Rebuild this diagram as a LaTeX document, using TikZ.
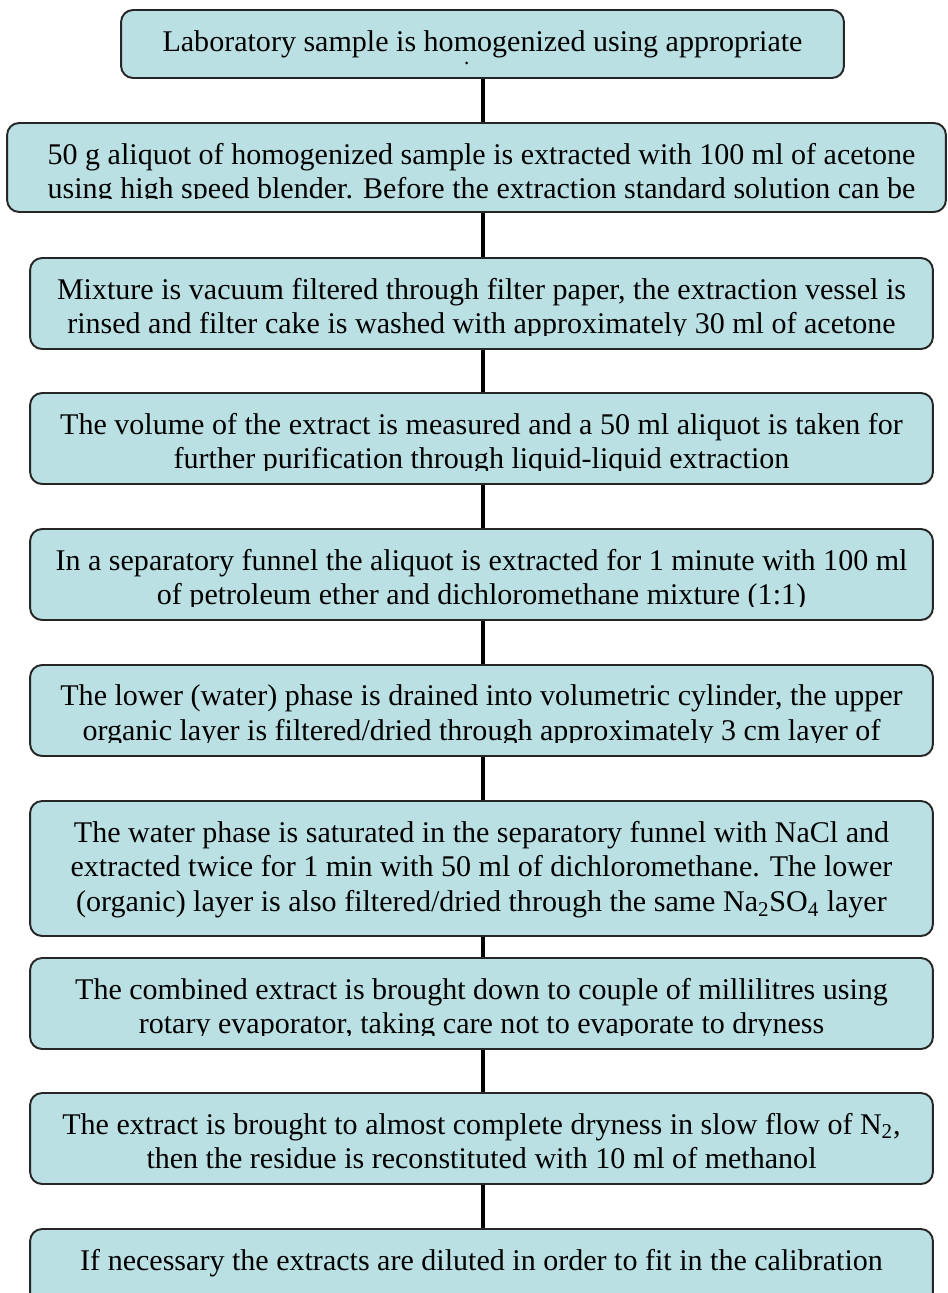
\documentclass[tikz,border=0pt]{standalone}
\usepackage{fontspec}
\setmainfont{Liberation Serif}
\usetikzlibrary{positioning,calc}
\definecolor{boxfill}{RGB}{186,224,227}
\tikzset{
    % Boxes
    step box/.style={draw=black!85,line width=1.1pt,fill=boxfill,rounded corners=0.24cm,inner sep=0pt},
    wide box/.style={step box,minimum width=18.06cm,minimum height=1.82cm},
    step text/.style={anchor=north,align=center,inner sep=0pt,font=\fontsize{17.1}{19.8}\selectfont},
    %
    % Connectors
    link/.style={line width=2.8pt},
    %
    % Text clipped at the lower inner edge of a box
    clip inset/.style={yshift=0.28cm}
}

\begin{document}
\begin{tikzpicture}[x=0.02cm,y=-0.02cm]
    \clip (0,0) rectangle (947,1293);
    \coordinate (spine) at (483,0);

    \node[step box,minimum width=14.46cm,minimum height=1.36cm] (b1) at (482.5,44) {};
    \node[step box,minimum width=18.78cm,minimum height=1.78cm] (b2) at (476.5,167.5) {};
    \node[wide box] (b3) at (481.5,303.5) {};
    \node[wide box] (b4) at (481.5,438.5) {};
    \node[wide box] (b5) at (481.5,574.5) {};
    \node[wide box] (b6) at (481.5,710.5) {};
    \node[wide box,minimum height=2.7cm] (b7) at (481.5,868.5) {};
    \node[wide box] (b8) at (481.5,1003.5) {};
    \node[wide box] (b9) at (481.5,1138.5) {};
    \node[wide box] (b10) at (481.5,1274.5) {};

    \draw[link] (b1.south -| spine) -- (b2.north -| spine)
        (b2.south -| spine) -- (b3.north -| spine)
        (b3.south -| spine) -- (b4.north -| spine)
        (b4.south -| spine) -- (b5.north -| spine)
        (b5.south -| spine) -- (b6.north -| spine)
        (b6.south -| spine) -- (b7.north -| spine)
        (b7.south -| spine) -- (b8.north -| spine)
        (b8.south -| spine) -- (b9.north -| spine)
        (b9.south -| spine) -- (b10.north -| spine);

    \node[step text] (t1) at ([yshift=-0.43cm]b1.north) {Laboratory sample is homogenized using appropriate};
    \node[circle,fill=black,inner sep=0pt,minimum size=0.06cm] (dot1) at (466.5,63) {};
    \begin{scope}
        \clip ([clip inset]b2.south west) rectangle (b2.north east);
        \node[step text] (t2) at ([yshift=-0.41cm,xshift=0.1cm]b2.north) {50 g aliquot of homogenized sample is extracted with 100 ml of acetone\\using high speed blender. Before the extraction standard solution can be};
    \end{scope}
    \begin{scope}
        \clip ([clip inset]b3.south west) rectangle (b3.north east);
        \node[step text] (t3) at ([yshift=-0.41cm]b3.north) {Mixture is vacuum filtered through filter paper, the extraction vessel is\\rinsed and filter cake is washed with approximately 30 ml of acetone};
    \end{scope}
    \begin{scope}
        \clip ([clip inset]b4.south west) rectangle (b4.north east);
        \node[step text] (t4) at ([yshift=-0.41cm]b4.north) {The volume of the extract is measured and a 50 ml aliquot is taken for\\further purification through liquid-liquid extraction};
    \end{scope}
    \begin{scope}
        \clip ([clip inset]b5.south west) rectangle (b5.north east);
        \node[step text] (t5) at ([yshift=-0.41cm]b5.north) {In a separatory funnel the aliquot is extracted for 1 minute with 100 ml\\of petroleum ether and dichloromethane mixture (1:1)};
    \end{scope}
    \begin{scope}
        \clip ([clip inset]b6.south west) rectangle (b6.north east);
        \node[step text] (t6) at ([yshift=-0.41cm]b6.north) {The lower (water) phase is drained into volumetric cylinder, the upper\\organic layer is filtered/dried through approximately 3 cm layer of};
    \end{scope}
    \node[step text] (t7) at ([yshift=-0.41cm]b7.north) {The water phase is saturated in the separatory funnel with NaCl and\\extracted twice for 1 min with 50 ml of dichloromethane. The lower\\(organic) layer is also filtered/dried through the same Na\textsubscript{2}SO\textsubscript{4} layer};
    \begin{scope}
        \clip ([clip inset]b8.south west) rectangle (b8.north east);
        \node[step text] (t8) at ([yshift=-0.41cm]b8.north) {The combined extract is brought down to couple of millilitres using\\rotary evaporator, taking care not to evaporate to dryness};
    \end{scope}
    \node[step text] (t9) at ([yshift=-0.41cm]b9.north) {The extract is brought to almost complete dryness in slow flow of N\textsubscript{2},\\then the residue is reconstituted with 10 ml of methanol};
    \node[step text] (t10) at ([yshift=-0.41cm]b10.north) {If necessary the extracts are diluted in order to fit in the calibration};
\end{tikzpicture}
\end{document}
